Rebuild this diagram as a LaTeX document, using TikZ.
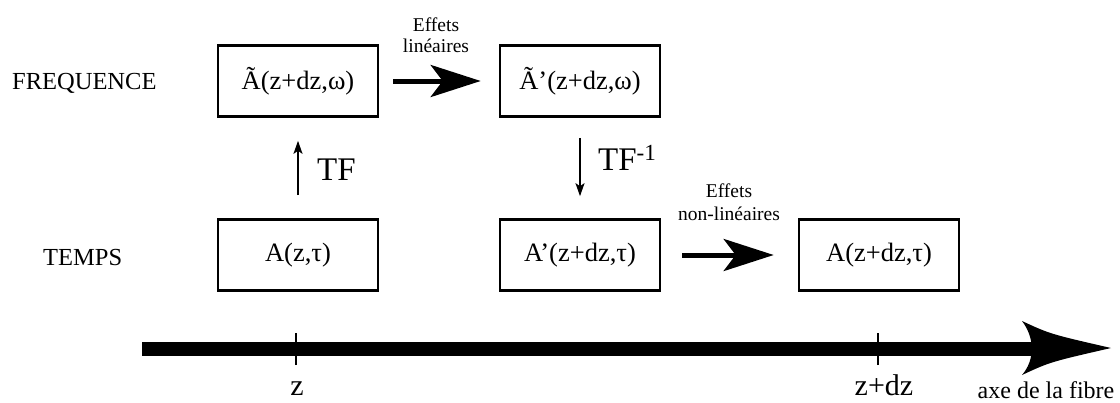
\documentclass[tikz,border=0pt]{standalone}
\usepackage{fontspec}
\setmainfont{Liberation Serif}
\usetikzlibrary{arrows.meta}
\begin{document}
\begin{tikzpicture}[x=1pt,y=-1pt,
  boxnode/.style={draw,line width=2.6pt,minimum width=160pt,minimum height=71pt,inner sep=0pt,font=\fontsize{26.5}{30}\selectfont},
  rowlabel/.style={font=\fontsize{24.5}{28}\selectfont,inner sep=0pt,anchor=base west},
  effnote/.style={font=\fontsize{19.5}{21}\selectfont,align=center,inner sep=0pt},
  bigarrow/.style={line width=5pt,-{Stealth[length=50pt,width=32pt,inset=12pt]}},
  thinarrow/.style={line width=1.5pt,-{Stealth[length=13pt,width=9pt,inset=3pt]}},
  tflabel/.style={font=\fontsize{33}{36}\selectfont,inner sep=0pt,anchor=base west},
  ticklabel/.style={font=\fontsize{30}{34}\selectfont,inner sep=0pt,anchor=base}
]
\useasboundingbox (0,0) rectangle (1120,402);
% row labels
\node[rowlabel] (freq) at (12,89) {FREQUENCE};
\node[rowlabel] (temps) at (43,265) {TEMPS};
% boxes
\node[boxnode] (b1) at (298,81) {Ã(z+dz,ω)};
\node[boxnode] (b2) at (580,81) {Ã’(z+dz,ω)};
\node[boxnode] (b3) at (298,255) {A(z,τ)};
\node[boxnode] (b4) at (580,255) {A’(z+dz,τ)};
\node[boxnode] (b5) at (879,255) {A(z+dz,τ)};
% horizontal arrows
\draw[bigarrow] ([xshift=14pt]b1.east) -- ([xshift=-18pt]b2.west);
\node[effnote] (lin) at (436,35) {Effets\\linéaires};
\draw[bigarrow] ([xshift=21pt]b4.east) -- ([xshift=-24pt]b5.west);
\node[effnote,font=\fontsize{19.5}{23}\selectfont] (nonlin) at (729,202) {Effets\\non-linéaires};
% vertical arrows
\draw[thinarrow] ([yshift=23pt]b3.north) -- ([yshift=-23pt]b1.south);
\node[tflabel] (tf) at (317,180) {TF};
\draw[thinarrow] ([yshift=-20pt]b2.south) -- ([yshift=22pt]b4.north);
\node[tflabel] (tfi) at (598,170) {TF\textsuperscript{-1}};
% axis
\coordinate (axs) at (142,349);
\coordinate (axe) at (1036,349);
\coordinate (tip) at (1111,348);
\draw[line width=14pt] (axs) -- (axe);
\fill (1022,321) .. controls (1050,334) .. (tip) .. controls (1050,362) .. (1022,375) .. controls (1035,360) and (1035,338) .. cycle;
% ticks
\coordinate (tz) at (296,349);
\coordinate (tzd) at (878,349);
\draw[line width=1.8pt] ([yshift=-16pt]tz) -- ([yshift=16pt]tz);
\draw[line width=1.8pt] ([yshift=-16pt]tzd) -- ([yshift=16pt]tzd);
\node[ticklabel] (lz) at (297,395) {z};
\node[ticklabel] (lzd) at (884,395) {z+dz};
\node[font=\fontsize{24}{28}\selectfont,inner sep=0pt,anchor=base] (fibre) at (1046,398) {axe de la fibre};
\end{tikzpicture}
\end{document}
